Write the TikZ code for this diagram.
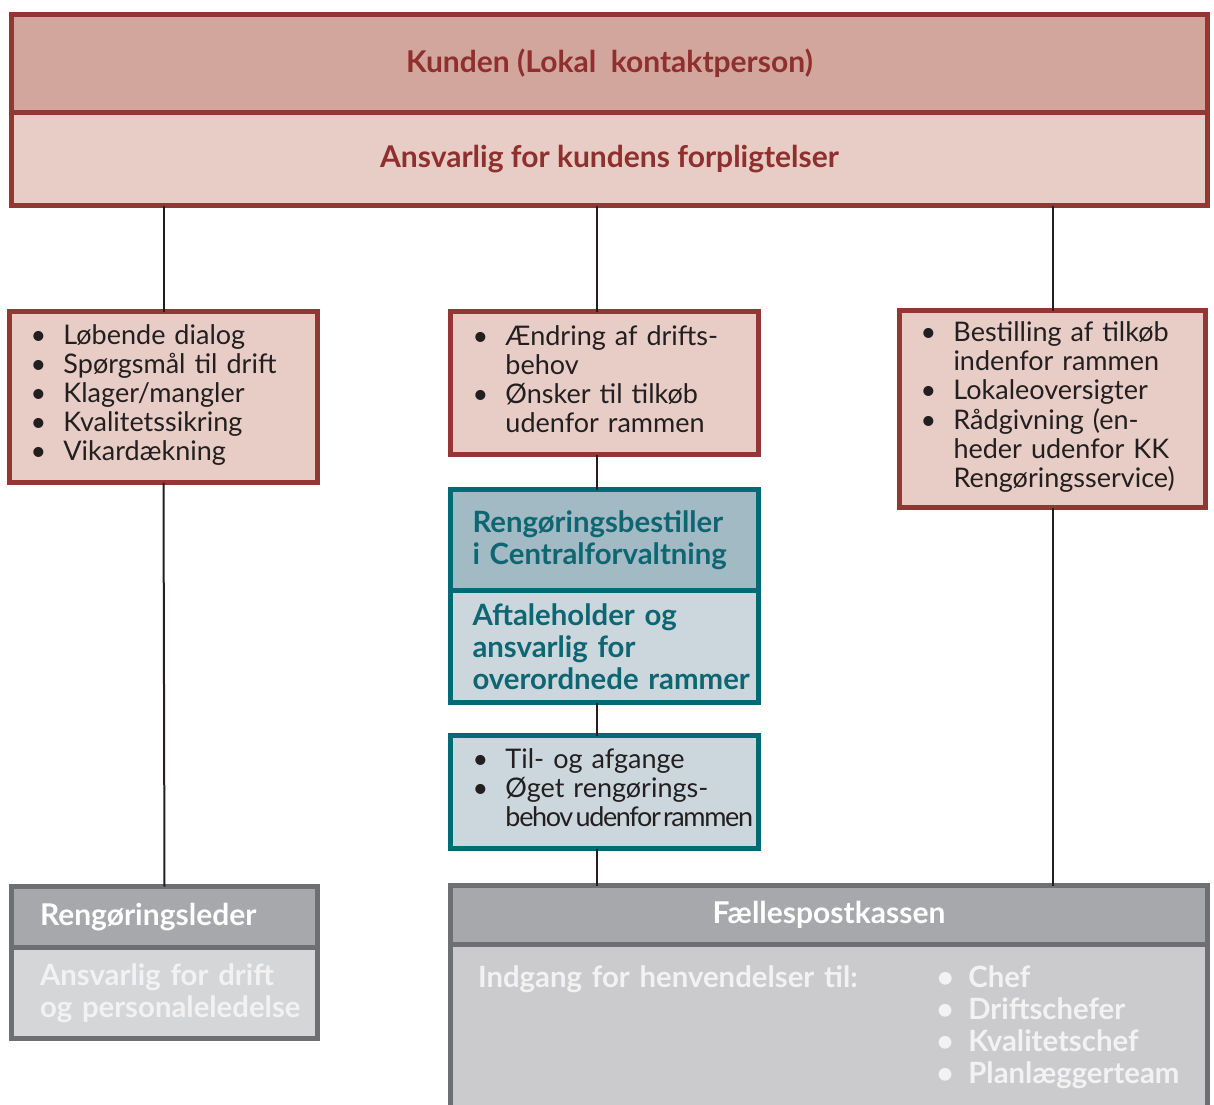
\documentclass[tikz,border=0pt]{standalone}
\usepackage{fontspec}
\setmainfont{Lato}
\usetikzlibrary{positioning}

\definecolor{kkRed}{HTML}{943634}
\definecolor{kkRedHead}{HTML}{D2A69C}
\definecolor{kkRedLight}{HTML}{E7CDC6}
\definecolor{kkRedText}{HTML}{8F2F2E}
\definecolor{kkTeal}{HTML}{006A77}
\definecolor{kkTealHead}{HTML}{A2BAC4}
\definecolor{kkTealLight}{HTML}{CCD7DD}
\definecolor{kkTealText}{HTML}{0E6672}
\definecolor{kkGray}{HTML}{6E6F72}
\definecolor{kkGrayHead}{HTML}{A7A8AB}
\definecolor{kkGrayLight}{HTML}{D5D6D8}
\definecolor{kkGrayBody}{HTML}{CBCBCD}
\definecolor{kkInk}{HTML}{231F20}

\tikzset{every picture/.style={line width=0.75pt}}
\tikzset{
  kkbox/.style={line width=3.75pt, outer sep=0pt, inner ysep=0pt},
  redhead/.style={kkbox, draw=kkRed, fill=kkRedHead, text=kkRedText, font=\fontsize{22.5}{24}\selectfont\bfseries},
  redbody/.style={kkbox, draw=kkRed, fill=kkRedLight, text=kkRedText, font=\fontsize{22.5}{24}\selectfont\bfseries},
  redlist/.style={kkbox, draw=kkRed, fill=kkRedLight, text=kkInk, align=left, font=\fontsize{20.25}{21.75}\selectfont},
  tealhead/.style={kkbox, draw=kkTeal, fill=kkTealHead, text=kkTealText, align=left, font=\fontsize{22}{24}\selectfont\bfseries},
  tealbody/.style={kkbox, draw=kkTeal, fill=kkTealLight, text=kkTealText, align=left, font=\fontsize{22}{24}\selectfont\bfseries},
  teallist/.style={kkbox, draw=kkTeal, fill=kkTealLight, text=kkInk, align=left, font=\fontsize{20.25}{21.75}\selectfont},
  grayhead/.style={kkbox, draw=kkGray, fill=kkGrayHead, text=white, font=\fontsize{22.5}{24}\selectfont\bfseries},
  graybody/.style={kkbox, draw=kkGray, fill=kkGrayLight, text=white!95!black, font=\fontsize{22}{24}\selectfont\bfseries},
  link/.style={draw=kkInk, line width=1.5pt}
}

\begin{document}
\begin{tikzpicture}[x=0.75pt,y=0.75pt,yscale=-1,xscale=1]
  \useasboundingbox (0,0) rectangle (1214,1104);
  %Shape: Kunden
  \node[redhead, anchor=north west, minimum width=897pt, minimum height=73.125pt] (kunde) at (11.5,14.5) {Kunden (Lokal\ \ kontaktperson)};
  \node[redbody, below=0pt of kunde, minimum width=897pt, minimum height=70.125pt] (kundeAnsvar) {Ansvarlig for kundens forpligtelser};

  %Shape: lists from the customer
  \node[redlist, anchor=north west, inner xsep=15.75pt, text width=199.5pt, minimum height=128.25pt] (dialog) at (9.5,311.5) {\raisebox{-4pt}{\begin{tabular}{@{}l@{\hspace{13pt}}l@{}}
      \textbullet & Løbende dialog\\
      \textbullet & Spørgsmål til drift\\
      \textbullet & Klager/mangler\\
      \textbullet & Kvalitetssikring\\
      \textbullet & Vikardækning
    \end{tabular}}};
  \node[redlist, anchor=north west, inner xsep=16.5pt, text width=198pt, minimum height=107.25pt] (aendring) at (450.5,311.5) {\raisebox{-2pt}{\begin{tabular}{@{}l@{\hspace{13pt}}l@{}}
      \textbullet & Ændring af drifts-\\
                  & behov\\
      \textbullet & Ønsker til tilkøb\\
                  & udenfor rammen
    \end{tabular}}};
  \node[redlist, anchor=north west, inner xsep=15.75pt, text width=198pt, minimum height=147.75pt] (bestilling) at (899.5,310.5) {\raisebox{-3pt}{\begin{tabular}{@{}l@{\hspace{13pt}}l@{}}
      \textbullet & Bestilling af tilkøb\\
                  & indenfor rammen\\
      \textbullet & Lokaleoversigter\\
      \textbullet & Rådgivning (en-\\
                  & heder udenfor KK\\
                  & Rengøringsservice)
    \end{tabular}}};

  %Shape: Centralforvaltning
  \node[tealhead, anchor=north west, inner xsep=16.5pt, text width=198pt, minimum height=75.375pt] (bestiller) at (450.5,489.5) {\mbox{Rengøringsbestiller}\\\mbox{i Centralforvaltning}};
  \node[tealbody, below=0pt of bestiller, inner xsep=16.5pt, text width=198pt, minimum height=84.375pt] (aftale) {\mbox{Aftaleholder og}\\\mbox{ansvarlig for}\\\mbox{overordnede rammer}};
  \node[teallist, anchor=north west, inner xsep=16.5pt, text width=198pt, minimum height=84.75pt] (tilgang) at (450.5,735.5) {\begin{tabular}{@{}l@{\hspace{13pt}}l@{}}
      \textbullet & Til- og afgange\\
      \textbullet & Øget rengørings-\\
                  & {\addfontfeature{LetterSpace=-5}\spaceskip=0.08em behov udenfor rammen}
    \end{tabular}};

  %Shape: Rengøringsleder
  \node[grayhead, anchor=north west, inner xsep=21.375pt, text width=186.75pt, align=left, minimum height=45.375pt] (leder) at (11.5,886.5) {Rengøringsleder};
  \node[graybody, below=0pt of leder, inner xsep=21.375pt, text width=186.75pt, align=left, minimum height=68.625pt] (lederAnsvar) {\mbox{Ansvarlig for drift}\\\mbox{og personaleledelse}};

  %Shape: Fællespostkassen
  \node[grayhead, anchor=north west, minimum width=567.75pt, minimum height=43.875pt] (faelles) at (450.5,885.5) {Fællespostkassen};
  \node[graybody, fill=kkGrayBody, below=0pt of faelles, inner xsep=20.625pt, inner ysep=16pt, text width=526.5pt, align=left] (indgang) {\begin{tabular}{@{}p{344pt}@{}l@{\hspace{11pt}}l@{}}
      Indgang for henvendelser til: & \textbullet & Chef\\
      & \textbullet & Driftschefer\\
      & \textbullet & Kvalitetschef\\
      & \textbullet & Planlæggerteam\\[12pt]
    \end{tabular}};

  %Straight Lines
  \coordinate (spine) at (597,250);
  \draw[link] (kundeAnsvar.south -| dialog.north) -- (dialog.north);
  \draw[link] (dialog.south) -- (leder.north);
  \draw[link] (kundeAnsvar.south -| spine) -- (aendring.north -| spine);
  \draw[link] (aendring.south -| spine) -- (bestiller.north -| spine);
  \draw[link] (aftale.south -| spine) -- (tilgang.north -| spine);
  \draw[link] (tilgang.south -| spine) -- (faelles.north -| spine);
  \draw[link] (kundeAnsvar.south -| bestilling.north) -- (bestilling.north);
  \draw[link] (bestilling.south) -- (faelles.north -| bestilling.south);
\end{tikzpicture}
\end{document}
